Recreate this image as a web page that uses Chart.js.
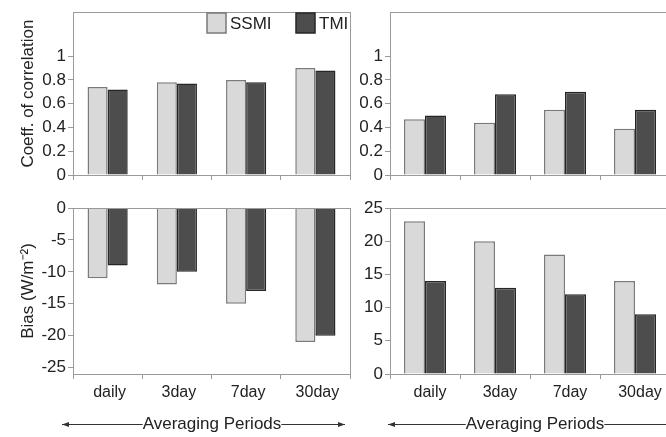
<!DOCTYPE html>
<html>
<head>
<meta charset="utf-8">
<script src="https://cdn.jsdelivr.net/npm/chart.js@4/dist/chart.umd.min.js"></script>
<style>
  html, body { margin: 0; padding: 0; background: #fff; }
  #wrap { position: relative; width: 666px; height: 437px; overflow: hidden; }
  canvas { position: absolute; }
  #tl { left: 0; top: 0; }
  #bl { left: 0; top: 190px; }
  #tr { left: 320px; top: 0; }
  #br { left: 320px; top: 190px; }
</style>
</head>
<body>
<div id="wrap">
  <canvas id="tl" width="360" height="195"></canvas>
  <canvas id="bl" width="360" height="247"></canvas>
  <canvas id="tr" width="370" height="195"></canvas>
  <canvas id="br" width="370" height="247"></canvas>
</div>
<script>
const categories = ["daily", "3day", "7day", "30day"];
const seriesNames = ["SSMI", "TMI"];

const corrSsmiLeft = [0.74, 0.78, 0.80, 0.90];
const corrTmiLeft = [0.72, 0.77, 0.78, 0.88];
const corrSsmiRight = [0.47, 0.44, 0.55, 0.39];
const corrTmiRight = [0.50, 0.68, 0.70, 0.55];

const biasSsmiLeft = [-11, -12, -15, -21];
const biasTmiLeft = [-9, -10, -13, -20];
const biasSsmiRight = [23, 20, 18, 14];
const biasTmiRight = [14, 13, 12, 9];

const corrTicks = [0, 0.2, 0.4, 0.6, 0.8, 1];
const biasTicksLeft = [0, -5, -10, -15, -20, -25];
const biasTicksRight = [0, 5, 10, 15, 20, 25];

const FONT = "'Liberation Sans', Arial, sans-serif";
const AXIS = "#9a9a9a";
const TEXT = "#222";
const SSMI_FILL = "#d9d9d9", SSMI_EDGE = "#7a7a7a";
const TMI_FILL = "#4d4d4d", TMI_EDGE = "#262626";

// box around the plot area
const boxPlugin = {
  id: "box",
  afterDraw(chart) {
    const a = chart.chartArea, ctx = chart.ctx;
    ctx.save();
    ctx.strokeStyle = AXIS;
    ctx.lineWidth = 1;
    ctx.strokeRect(Math.round(a.left) + 0.5, Math.round(a.top) + 0.5,
      Math.round(a.right - a.left), Math.round(a.bottom - a.top));
    ctx.restore();
  },
};

// legend sitting inside the top-left panel
const innerLegend = {
  id: "innerLegend",
  afterDraw(chart, args, opts) {
    if (!opts.show) return;
    const ctx = chart.ctx, a = chart.chartArea;
    const items = [
      { x: a.right - 143, name: seriesNames[0], fill: SSMI_FILL, edge: SSMI_EDGE },
      { x: a.right - 54, name: seriesNames[1], fill: TMI_FILL, edge: TMI_EDGE },
    ];
    ctx.save();
    ctx.font = "17px " + FONT;
    ctx.textBaseline = "middle";
    items.forEach((it) => {
      ctx.fillStyle = it.fill;
      ctx.strokeStyle = it.edge;
      ctx.lineWidth = 1.5;
      ctx.fillRect(it.x, 13, 19, 20);
      ctx.strokeRect(it.x, 13, 19, 20);
      ctx.fillStyle = TEXT;
      ctx.fillText(it.name, it.x + 23, 24);
    });
    ctx.restore();
  },
};

// "Averaging Periods" with the double arrow under the bottom panels
const periodArrow = {
  id: "periodArrow",
  afterDraw(chart, args, opts) {
    if (!opts.show) return;
    const ctx = chart.ctx, a = chart.chartArea;
    const y = 234;
    const x0 = a.left + opts.from, x1 = a.left + opts.to, cx = a.left + opts.center;
    const label = "Averaging Periods";
    ctx.save();
    ctx.font = "17px " + FONT;
    const w = ctx.measureText(label).width;
    ctx.strokeStyle = "#333";
    ctx.fillStyle = "#333";
    ctx.lineWidth = 1;
    ctx.beginPath();
    ctx.moveTo(x0, y + 0.5); ctx.lineTo(cx - w / 2, y + 0.5);
    ctx.moveTo(cx + w / 2, y + 0.5); ctx.lineTo(x1, y + 0.5);
    ctx.stroke();
    [[x0, 1], [x1, -1]].forEach(([x, d]) => {
      ctx.beginPath();
      ctx.moveTo(x, y + 0.5);
      ctx.lineTo(x + d * 7, y - 2);
      ctx.lineTo(x + d * 7, y + 3);
      ctx.closePath();
      ctx.fill();
    });
    ctx.fillStyle = TEXT;
    ctx.textAlign = "center";
    ctx.textBaseline = "middle";
    ctx.fillText(label, cx, y);
    ctx.restore();
  },
};

function makePanel(id, cfg) {
  return new Chart(document.getElementById(id), {
    type: "bar",
    data: {
      labels: categories,
      datasets: [
        { label: seriesNames[0], data: cfg.ssmi, backgroundColor: SSMI_FILL, borderColor: SSMI_EDGE, borderWidth: 1.5 },
        { label: seriesNames[1], data: cfg.tmi, backgroundColor: TMI_FILL, borderColor: TMI_EDGE, borderWidth: 1.5 },
      ],
    },
    options: {
      responsive: false,
      animation: false,
      categoryPercentage: cfg.catPct,
      barPercentage: 1,
      layout: { padding: { top: cfg.padTop, right: cfg.padRight, left: 0, bottom: 0 } },
      plugins: {
        legend: { display: false },
        tooltip: { enabled: false },
        innerLegend: { show: !!cfg.legend },
        periodArrow: { show: !!cfg.arrow, ...(cfg.arrow || {}) },
      },
      scales: {
        x: {
          afterFit: (s) => { s.height = cfg.xHeight; },
          border: { display: true, color: AXIS },
          grid: { display: true, offset: true, drawOnChartArea: false, drawTicks: true, tickLength: 5, color: AXIS },
          ticks: {
            display: cfg.showLabels,
            color: TEXT,
            padding: 4,
            labelOffset: cfg.labelOffset || 0,
            maxRotation: 0,
            font: { family: FONT, size: 16 },
          },
        },
        y: {
          min: cfg.min,
          max: cfg.max,
          afterFit: (s) => { s.width = cfg.yWidth; },
          afterBuildTicks: (s) => { s.ticks = cfg.ticks.map((v) => ({ value: v })); },
          border: { display: true, color: AXIS },
          grid: { display: true, drawOnChartArea: false, drawTicks: true, tickLength: 5, color: AXIS },
          ticks: {
            color: TEXT,
            padding: 2,
            font: { family: FONT, size: 17 },
            callback: (v) => String(Number(v)),
          },
          title: {
            display: !!cfg.title,
            text: cfg.title || "",
            color: TEXT,
            padding: { top: 18, bottom: 0 },
            font: { family: FONT, size: 17 },
          },
        },
      },
    },
    plugins: [boxPlugin, innerLegend, periodArrow],
  });
}

makePanel("tl", {
  ssmi: corrSsmiLeft, tmi: corrTmiLeft, ticks: corrTicks, min: 0, max: 1.37,
  title: "Coeff. of correlation", legend: true, showLabels: false,
  yWidth: 73, padTop: 7, padRight: 10, xHeight: 20, catPct: 0.58,
});
makePanel("bl", {
  ssmi: biasSsmiLeft, tmi: biasTmiLeft, ticks: biasTicksLeft, min: -26, max: 0,
  title: "Bias (W/m\u207B\u00B2)", showLabels: true, labelOffset: 2,
  yWidth: 73, padTop: 18, padRight: 10, xHeight: 63, catPct: 0.58,
  arrow: { from: -11, to: 272, center: 139 },
});
makePanel("tr", {
  ssmi: corrSsmiRight, tmi: corrTmiRight, ticks: corrTicks, min: 0, max: 1.37,
  showLabels: false,
  yWidth: 70, padTop: 7, padRight: 20, xHeight: 20, catPct: 0.6,
});
makePanel("br", {
  ssmi: biasSsmiRight, tmi: biasTmiRight, ticks: biasTicksRight, min: 0, max: 25,
  showLabels: true, labelOffset: 5,
  yWidth: 70, padTop: 18, padRight: 20, xHeight: 63, catPct: 0.6,
  arrow: { from: -2, to: 330, center: 145 },
});
</script>
</body>
</html>
